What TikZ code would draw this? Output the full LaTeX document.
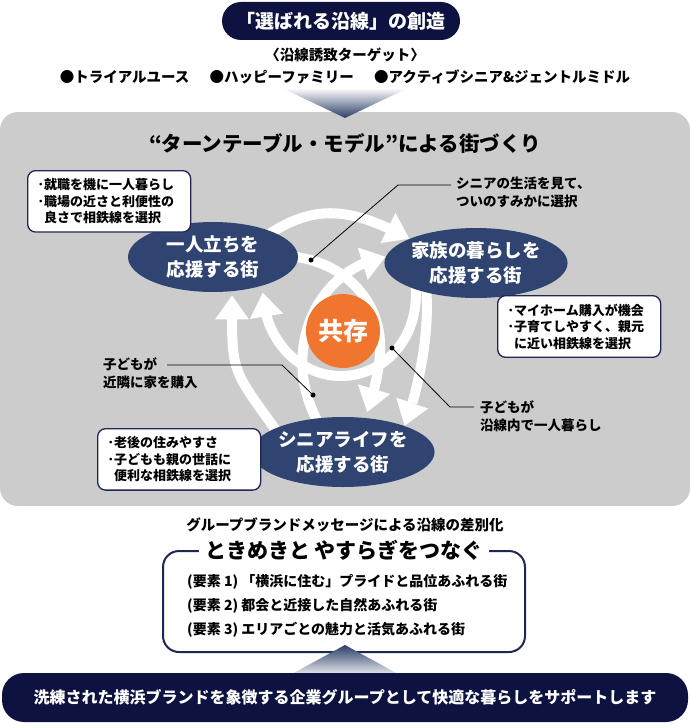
\documentclass[tikz,border=0pt]{standalone}
\usepackage{fontspec}
\setmainfont{Noto Sans CJK JP}
\usepackage{xcolor}
\usepackage{tikz}
\usetikzlibrary{calc,arrows.meta,bending,shapes.geometric,positioning}

\definecolor{pillnavy}{RGB}{14,18,64}
\definecolor{ovalnavy}{RGB}{47,68,112}
\definecolor{boxline}{RGB}{30,38,84}
\definecolor{panelgray}{RGB}{204,204,204}
\definecolor{kyozon}{RGB}{240,118,47}

\pgfdeclarelayer{back}
\pgfdeclarelayer{mid}
\pgfsetlayers{back,mid,main}

\begin{document}
\begin{tikzpicture}[x=1pt, y=1pt,
    town/.style={ellipse, fill=ovalnavy, text=white, inner sep=0pt, minimum width=170pt, minimum height=70pt, align=center, font=\fontsize{18.5}{25}\selectfont\bfseries},
    note/.style={draw=boxline, line width=1.3pt, fill=white, rounded corners=8pt, align=left, anchor=north west, text width=143pt, inner xsep=10pt, inner ysep=8pt, font=\fontsize{13}{16.5}\selectfont\bfseries},
    remark/.style={align=left, anchor=north west, inner sep=0pt, font=\fontsize{13.5}{18}\selectfont\bfseries},
    leader/.style={line width=0.8pt},
    dot/.style={circle, fill=black, inner sep=0pt, minimum size=5pt},
    turn/.style={white, line width=10pt, -{Triangle[width=32pt,length=24pt,flex]}}
]
\useasboundingbox (0,0) rectangle (690,-725);

% Top: target of the line
\node[fill=pillnavy, rounded corners=19pt, text=white, minimum width=238pt, minimum height=38pt, font=\fontsize{19}{22}\selectfont\bfseries] (create) at (341,-21) {「選ばれる沿線」の創造};
\node[font=\fontsize{14.5}{17}\selectfont\bfseries] (target) at (345,-55) {〈沿線誘致ターゲット〉};
\node[font=\fontsize{14.5}{17}\selectfont\bfseries] (groups) at (345,-77) {●トライアルユース\hspace{1.4em}●ハッピーファミリー\hspace{1.4em}●アクティブシニア\&ジェントルミドル};

% Grey panel
\begin{pgfonlayer}{back}
\fill[panelgray, rounded corners=18pt] (0,-112) rectangle (690,-506);
\end{pgfonlayer}
\shade[top color=white, bottom color=ovalnavy!90!black] (282,-88) -- (408,-88) -- (345,-118) -- cycle;

\node[font=\fontsize{20.5}{24}\selectfont\bfseries] (title) at (345,-143) {“ターンテーブル・モデル”による街づくり};

% Three towns
\node[town] (e1) at (213,-257) {一人立ちを\\応援する街};
\node[town] (e2) at (476,-263) {家族の暮らしを\\応援する街};
\node[town] (e3) at (343,-452) {シニアライフを\\応援する街};
\node[circle, fill=kyozon, text=white, minimum size=74pt, inner sep=0pt, font=\fontsize{25}{28}\selectfont\bfseries] (center) at (343,-331) {共存};

% Turntable arrows
\begin{pgfonlayer}{mid}
\draw[turn, shorten <=-8pt] (e1.23) .. controls (314,-203.4) and (351.3,-207.6) .. (e2.160);
\draw[turn, shorten <=-8pt] (e2.211) .. controls (430.7,-328.7) and (418.3,-391.6) .. (e3.23);
\draw[turn, shorten <=-8pt, shorten >=4pt] (e3.161) .. controls (230,-365.8) and (232,-375.7) .. (e1.-61);
\draw[turn, shorten <=-8pt, shorten >=7pt] (e2.204) .. controls (422,-334.7) and (386.2,-376) .. (341,-376) .. controls (296.9,-376) and (261.5,-336.4) .. (e1.-30);
\draw[turn, shorten <=-8pt, shorten >=6pt] (e1.east) .. controls (347.2,-261.3) and (384.3,-305.4) .. (379.9,-355.3) .. controls (378.1,-376.2) and (372.4,-398.3) .. (e3.57);
\draw[turn, shorten <=-8pt] (e3.129) .. controls (277.8,-352) and (317.4,-268.7) .. (e2.176);
\end{pgfonlayer}

% Notes
\node[note] (noteA) at (27,-170) {･就職を機に一人暮らし\\･職場の近さと利便性の\\\hphantom{･}良さで相鉄線を選択};
\node[note] (noteB) at (497,-295) {･マイホーム購入が機会\\･子育てしやすく、親元\\\hphantom{･}に近い相鉄線を選択};
\node[note] (noteC) at (97,-428) {･老後の住みやすさ\\･子どもも親の世話に\\\hphantom{･}便利な相鉄線を選択};

% Remarks with leaders
\node[remark] (l1) at (456,-177) {シニアの生活を見て、\\ついのすみかに選択};
\node[remark] (l2) at (103,-357) {子どもが\\近隣に家を購入};
\node[remark] (l3) at (480,-400) {子どもが\\沿線内で一人暮らし};
\node[dot] (d1) at (311,-260) {};
\node[dot] (d2) at (313,-395) {};
\node[dot] (d3) at (392,-348) {};
\draw[leader] (d1.center) -- ($(l1.north west)+(-58,-8)$) -- ($(l1.north west)+(-5,-8)$);
\draw[leader] ($(l2.north west)+(64,-8)$) -- ($(l2.north west)+(179,-8)$) -- (d2.center);
\draw[leader] (d3.center) -- ($(l3.north west)+(-30,-7)$) -- ($(l3.north west)+(-6,-7)$);

% Bottom: brand message
\node[font=\fontsize{14.5}{17}\selectfont\bfseries] (brand) at (345,-525) {グループブランドメッセージによる沿線の差別化};
\node[draw=boxline, line width=2pt, fill=white, rounded corners=16pt, minimum width=362pt, minimum height=101pt] (msgbox) at (344,-601.5) {};
\node[fill=white, inner xsep=6pt, inner ysep=2pt, font=\fontsize{21}{24}\selectfont\bfseries] (slogan) at (msgbox.north) {ときめきと\ やすらぎをつなぐ};
\node[anchor=north west, align=left, inner sep=0pt, font=\fontsize{14}{24}\selectfont\bfseries] (items) at (187,-574) {(要素 1) 「横浜に住む」プライドと品位あふれる街\\(要素 2) 都会と近接した自然あふれる街\\(要素 3) エリアごとの魅力と活気あふれる街};

\shade[top color=ovalnavy!90!black, bottom color=ovalnavy!10] (345,-645) -- (400,-675) -- (290,-675) -- cycle;
\node[fill=pillnavy, rounded corners=22pt, text=white, minimum width=686pt, minimum height=49pt, font=\fontsize{16}{19}\selectfont\bfseries] (support) at (345,-697.5) {洗練された横浜ブランドを象徴する企業グループとして快適な暮らしをサポートします};

\end{tikzpicture}
\end{document}
